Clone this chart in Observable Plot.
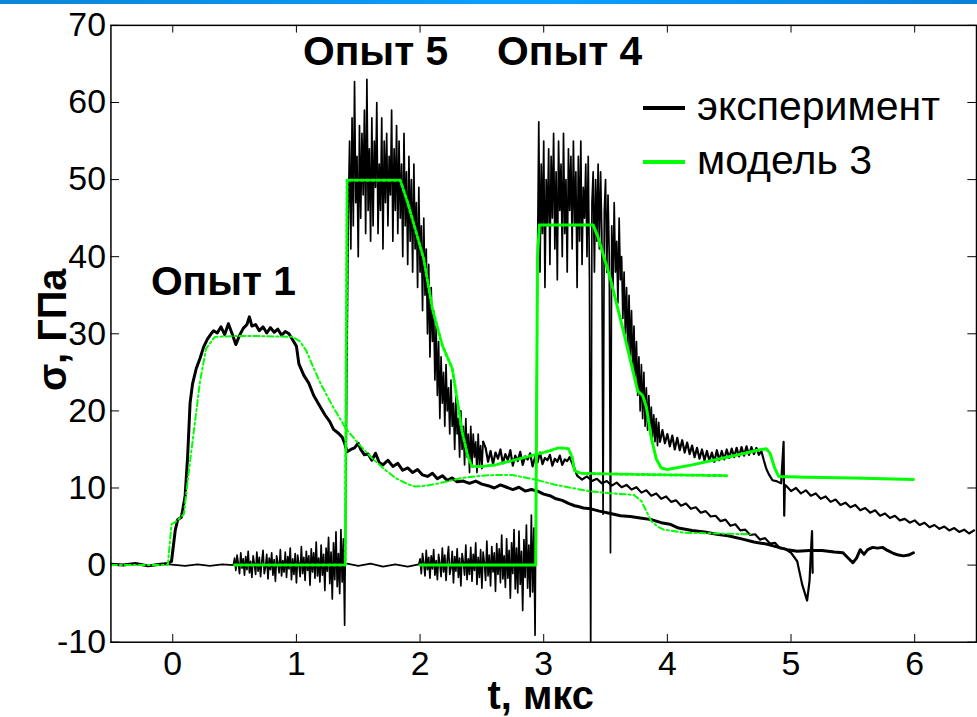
<!DOCTYPE html>
<html><head><meta charset="utf-8">
<script src="https://cdn.jsdelivr.net/npm/d3@7"></script>
<script src="https://cdn.jsdelivr.net/npm/@observablehq/plot@0.6"></script>
<style>
html,body{margin:0;padding:0;background:#fff;overflow:hidden;}
#wrap{position:relative;width:977px;height:717px;overflow:hidden;}
#bar{position:absolute;left:0;top:0;width:977px;height:4px;background:linear-gradient(90deg,#0b86d8,#0aa0ff 55%,#0a7fd8);z-index:2;}
.leg{position:absolute;font-family:"Liberation Sans",Arial,sans-serif;font-size:41px;line-height:41px;color:#000;white-space:nowrap;z-index:2;}
.legline{position:absolute;height:4px;width:42px;z-index:2;}
</style></head><body><div id="wrap"><div id="bar"></div></div>
<script>
// ---------- axes ----------
const xTicks = [0, 1, 2, 3, 4, 5, 6];
const yTicks = [-10, 0, 10, 20, 30, 40, 50, 60, 70];
const xTitle = ["t, мкс"];
const yTitle = ["σ, ГПа"];
const annotations = [
  {t: 0.41, s: 36.7, label: "Опыт 1"},
  {t: 1.64, s: 66.5, label: "Опыт 5"},
  {t: 3.21, s: 66.5, label: "Опыт 4"}
];
const legendLabels = ["эксперимент", "модель 3"];
const legendColors = ["#000000", "#00ff00"];

// ---------- Опыт 1, experiment (thick black) ----------
const exp1 = [[-0.5,0.1],[-0.4,0],[-0.3,0.2],[-0.2,-0.1],[-0.1,0.1],[-0.04,0.2],[-0.01,0.5],[0.02,4.5],[0.04,5.9],[0.07,6.2],[0.1,9],[0.12,14],[0.14,21],[0.16,23.5],[0.19,25.5],[0.22,26.8],[0.25,28.3],[0.28,29.3],[0.31,30.0],[0.33,30.4],[0.36,30.1],[0.39,30.9],[0.42,29.9],[0.45,31.3],[0.48,30.0],[0.51,28.6],[0.54,29.8],[0.57,30.7],[0.6,31.2],[0.62,32.2],[0.64,31.0],[0.67,31.2],[0.70,30.4],[0.73,30.9],[0.76,30.1],[0.79,30.8],[0.82,30.2],[0.85,30.6],[0.88,29.8],[0.91,30.3],[0.94,30.0],[0.97,29.2],[1.0,28.4],[1.02,26.1],[1.06,24.6],[1.10,23.6],[1.14,22.0],[1.19,20.6],[1.23,19.5],[1.27,18.6],[1.30,17.6],[1.34,17.1],[1.37,16.6],[1.39,15.8],[1.41,14.7],[1.44,15.0],[1.47,15.2],[1.50,15.8],[1.52,15.0],[1.55,14.3],[1.58,14.4],[1.61,13.6],[1.64,14.5],[1.67,13.3],[1.70,13.0],[1.74,13.6],[1.78,12.8],[1.82,13.2],[1.86,12.3],[1.9,12.6],[1.94,12.0],[1.98,12.4],[2.02,11.7],[2.06,11.5],[2.10,11.9],[2.14,11.2],[2.18,11.6],[2.22,11.0],[2.26,11.3],[2.30,10.8],[2.35,10.9],[2.40,10.6],[2.45,10.9],[2.50,10.5],[2.55,10.3],[2.60,10.0],[2.65,10.4],[2.70,10.1],[2.75,9.8],[2.80,10.1],[2.85,9.6],[2.90,9.8],[2.95,9.6],[3.0,9.2],[3.05,9.0],[3.10,8.6],[3.15,8.4],[3.20,8.0],[3.25,7.7],[3.28,7.6],[3.32,7.4],[3.38,7.3],[3.45,7.0],[3.54,6.7],[3.62,6.4],[3.70,6.3],[3.78,6.1],[3.87,5.9],[3.95,5.5],[4.02,5.3],[4.09,4.8],[4.2,4.5],[4.3,4.3],[4.4,4.0],[4.49,3.8],[4.6,3.4],[4.7,3.0],[4.81,2.7],[4.9,2.3],[4.97,2.0],[5.05,1.8],[5.15,1.9],[5.25,1.9],[5.35,1.7],[5.42,1.6],[5.47,0.8],[5.5,0.3],[5.53,0.9],[5.56,2.0],[5.59,1.4],[5.62,2.0],[5.66,2.3],[5.70,2.2],[5.74,2.3],[5.78,1.9],[5.83,1.5],[5.87,1.3],[5.91,1.2],[5.95,1.3],[5.99,1.6]];

// ---------- Опыт 5, experiment (noisy thin black) ----------
const exp5Quiet = [[-0.03,0.1],[0.1,-0.1],[0.2,0.1],[0.3,-0.1],[0.4,0.1],[0.49,0]];
const exp5PreStart = 0.5, exp5PreStep = 0.01;
const exp5Pre = [0.9,-0.7,1.3,0.2,-1.1,1.6,-0.4,0.8,-1.3,1.1,
 -0.6,1.8,-1.0,0.5,-1.6,1.2,0.1,-1.2,1.7,-0.8,
 1.0,-1.5,0.4,1.9,-1.1,-0.3,1.4,-1.8,0.9,-0.6,
 1.6,-1.3,0.7,-2.1,1.2,0.3,-1.0,2.0,-1.4,0.6,
 -0.9,1.7,-1.6,1.1,-0.5,2.2,-1.9,0.8,-1.2,1.5,
 -2.3,1.3,0.2,-1.5,2.4,-1.1,1.0,-2.0,1.8,-0.7,
 1.2,-2.6,2.1,-0.9,1.6,-1.7,3.0,-1.4,0.9,-2.2,
 2.6,-1.3,1.4,-3.3,2.2,-0.8,3.6,-2.4,1.7,-4.4,
 2.9,-1.9,4.3,-2.8,1.5,-3.7,4.6,-2.2,3.4,-7.8];
const exp5PeakStart = 1.42, exp5PeakStep = 0.01;
const exp5Peak = [46,55,41,58,44,62.7,47,53,40,57,
 45,56,48,59,43,63,46,54,42,58,
 44,55,49,60,43,52,46,58,41,55,
 47,56,44,53,48,59,42,54,46,57,
 43,55,45,52,40,56,44,51,39,53,
 42,50,38,52,41,47,36,49,38,44,
 33,45,35,41,30,39,27,36,29,33,
 24,31,22,29,19,27,21,25,18,26,
 20,23,17,24,18,21,15,22,17,19,
 14,20,15,18,13,19,14,17,12,18,
 13,17,14,16,12,17,13,15.5,12.5,16];
const exp5MidStart = 2.53, exp5MidStep = 0.02;
const exp5Mid = [15.2,13.4,14.8,13.1,14.6,13.8,15.0,13.2,14.4,13.6,
 14.9,12.9,14.2,13.5,14.7,13.0,14.1,13.7,14.5,12.8,
 14.0,13.3,14.6,13.1,13.9,13.6,14.3,12.9,13.8,13.4,
 14.2,13.0,13.7,13.5,14.0,13.2,12.5];
const exp5TailStart = 3.27, exp5TailStep = 0.04;
const exp5Tail = [11.6,11.1,11.5,10.9,11.2,10.6,10.9,10.3,10.7,10.1,
 10.4,9.8,10.1,9.4,9.7,9.0,9.3,8.6,8.9,8.2,
 8.4,7.7,8.0,7.3,7.5,6.8,7.0,6.3,6.4,5.7,
 5.9,5.1,5.3,4.5,4.6,3.9,4.0,3.3,3.5,2.8,
 2.9,2.2,2.1];
const exp5End = [[5.00,1.6],[5.05,0.5],[5.09,-2.5],[5.13,-4.6],[5.15,-2.0],[5.16,1.5],[5.17,4.4],[5.175,-1.0]];

// ---------- Опыт 4, experiment (noisy thin black) ----------
const exp4Quiet = [[1.41,0.2],[1.5,-0.1],[1.6,0.2],[1.7,-0.2],[1.8,0.1],[1.9,-0.2],[1.99,0.1]];
const exp4PreStart = 2.0, exp4PreStep = 0.01;
const exp4Pre = [0.8,-1.1,1.5,0.3,-1.4,1.9,-0.6,1.0,-1.7,1.2,
 -0.5,2.0,-1.3,0.6,-1.9,1.4,0.2,-1.5,2.2,-0.9,
 1.3,-2.0,0.7,2.4,-1.2,-0.4,1.8,-2.3,1.1,-0.8,
 2.1,-1.6,0.9,-2.7,1.5,0.4,-1.3,2.6,-1.9,0.8,
 -1.2,2.3,-2.1,1.4,-0.7,2.9,-2.5,1.0,-1.6,2.0,
 -3.0,1.7,0.3,-2.0,3.1,-1.4,1.3,-2.7,2.4,-0.9,
 1.6,-3.4,2.8,-1.2,2.1,-2.3,3.9,-1.8,1.2,-2.9,
 3.4,-1.7,1.9,-4.3,2.9,-1.1,4.6,-3.1,2.2,-3.6,
 4.4,-2.5,1.8,-5.9,3.3,-1.6,5.2,-3.0,2.6,-4.1,
 6.5,-3.5,4.8,-9.1];
const exp4PeakStart = 2.95, exp4PeakStep = 0.01;
const exp4Peak = [40,57.5,38,52,43,55,36,50,44,54,
 39,53,45,56,41,51,37,55,46,52,
 40,56,43,50,38,54,46,53,41,55,
 44,51,36,53,42,55,39,49,45,52,
 40,53,37,-12,47,51,38,50,42,52,
 41,51,43,6.6,46,50,38,48,40,1.6,
 44,36,47,38,42,34,45,37,40,32,
 38,30,36,28,35,27,33,25,31,24,
 29,22,27,20,26,19,25,18,23,17.5,
 22,17,20.5,16.5,19.5,16,19,15.5,18.5,16];
const exp4MidStart = 3.96, exp4MidStep = 0.02;
const exp4Mid = [17.5,15.8,17.0,15.4,16.8,15.0,16.5,14.9,16.2,14.6,
 15.9,14.4,15.5,14.0,15.2,13.8,15.0,13.6,14.8,13.5,
 14.6,13.4,14.9,13.6,14.8,13.7,15.0,13.9,15.1,14.0,
 15.2,14.1,15.3,14.2,15.4,14.3,15.3,14.4,15.2,14.3,
 14.8,13.6,12.5];
const exp4Drop = [[4.82,11.8],[4.85,11.0],[4.88,10.9],[4.92,10.6],[4.94,16.0],[4.945,6.4],[4.95,10.4]];
const exp4TailStart = 4.96, exp4TailStep = 0.04;
const exp4Tail = [10.3,9.6,10.0,9.3,9.7,9.0,9.3,8.6,8.9,8.2,
 8.5,7.8,8.1,7.5,7.8,7.1,7.4,6.8,7.1,6.4,
 6.7,6.1,6.4,5.8,6.0,5.5,5.8,5.2,5.5,4.9,
 5.2,4.7,5.0,4.5,4.8,4.3,4.6,4.1,4.5];

// ---------- models (green) ----------
const model1 = [[-0.5,0],[-0.04,0],[-0.01,5.3],[0.03,5.7],[0.09,6.6],[0.13,12.2],[0.17,17.3],[0.22,23.8],[0.27,28.1],[0.34,29.6],[0.5,29.7],[0.7,29.7],[0.97,29.6],[1.03,29.0],[1.08,27.8],[1.13,25.9],[1.2,23.4],[1.29,20.7],[1.4,17.7],[1.51,15.6],[1.61,13.9],[1.70,12.6],[1.8,11.3],[1.9,10.5],[1.96,10.2],[2.05,10.3],[2.15,10.6],[2.34,11.3],[2.5,11.6],[2.63,11.7],[2.74,11.7],[2.93,11.1],[3.1,10.4],[3.36,9.6],[3.55,9.3],[3.73,9.1],[3.79,8.3],[3.83,7.0],[3.87,5.7],[3.92,5.0],[3.97,4.6],[4.14,4.2],[4.4,4.1],[4.67,4.0]];
const model5 = [[0.5,0],[1.395,0],[1.41,49.9],[1.84,49.9],[1.9,47],[2.03,39.7],[2.1,33.2],[2.18,28.5],[2.26,25.5],[2.30,21.5],[2.34,17.3],[2.39,13.9],[2.42,12.8],[2.5,12.8],[2.61,13.0],[2.88,14.1],[3.0,14.6],[3.12,15.2],[3.2,15.1],[3.23,14.0],[3.25,12.2],[3.3,11.9],[3.6,11.8],[4.0,11.7],[4.48,11.6]];
const model4 = [[2.0,0],[2.935,0],[2.95,40],[2.965,44.1],[3.40,44.1],[3.44,42.5],[3.54,37.1],[3.65,30],[3.76,22.6],[3.80,22.0],[3.83,20.5],[3.87,16.5],[3.91,13.8],[3.95,12.6],[4.0,12.4],[4.2,13.0],[4.4,13.7],[4.6,14.4],[4.73,14.9],[4.8,15.1],[4.83,14.5],[4.87,12.5],[4.9,11.5],[5.13,11.4],[5.5,11.3],[5.99,11.1]];

// ---------- assemble ----------
const steps = (t0, dt, vals) => vals.map((v, i) => [t0 + i * dt, v]);
const exp5Fast = [].concat(exp5Quiet, steps(exp5PreStart, exp5PreStep, exp5Pre), steps(exp5PeakStart, exp5PeakStep, exp5Peak));
const exp5Slow = [].concat([exp5Fast[exp5Fast.length - 1]], steps(exp5MidStart, exp5MidStep, exp5Mid),
  steps(exp5TailStart, exp5TailStep, exp5Tail), exp5End);
const exp4Fast = [].concat(exp4Quiet, steps(exp4PreStart, exp4PreStep, exp4Pre), steps(exp4PeakStart, exp4PeakStep, exp4Peak));
const exp4Slow = [].concat([exp4Fast[exp4Fast.length - 1]], steps(exp4MidStart, exp4MidStep, exp4Mid), exp4Drop,
  steps(exp4TailStart, exp4TailStep, exp4Tail));

const X = d => d[0], Y = d => d[1];
const font = "'Liberation Sans', Arial, Helvetica, sans-serif";

const chart = Plot.plot({
  width: 982, height: 717,
  marginLeft: 111, marginRight: 1, marginTop: 25, marginBottom: 72,
  x: {domain: [-0.5, 6.5]},
  y: {domain: [-10, 70]},
  style: {fontFamily: font, background: "transparent", color: "#000", overflow: "visible"},
  marks: [
    Plot.axisX(xTicks, {anchor: "bottom", tickSize: 0, tickPadding: 9, fontSize: 34, label: null, tickFormat: d => String(d)}),
    Plot.axisY(yTicks, {anchor: "left", tickSize: 0, tickPadding: 5, fontSize: 34, label: null, tickFormat: d => String(d)}),
    Plot.ruleX(xTicks, {x: d => d, y1: -10, y2: -9, stroke: "#000", strokeWidth: 1}),
    Plot.ruleX(xTicks, {x: d => d, y1: 70, y2: 69, stroke: "#000", strokeWidth: 1}),
    Plot.ruleY(yTicks, {y: d => d, x1: -0.5, x2: -0.43, stroke: "#000", strokeWidth: 1}),
    Plot.ruleY(yTicks, {y: d => d, x1: 6.5, x2: 6.43, stroke: "#000", strokeWidth: 1}),
    Plot.line(exp5Fast, {x: X, y: Y, stroke: "#000", strokeWidth: 1.7, clip: true}),
    Plot.line(exp5Slow, {x: X, y: Y, stroke: "#000", strokeWidth: 2.2, clip: true}),
    Plot.line(exp4Fast, {x: X, y: Y, stroke: "#000", strokeWidth: 1.7, clip: true}),
    Plot.line(exp4Slow, {x: X, y: Y, stroke: "#000", strokeWidth: 2.2, clip: true}),
    Plot.line(exp1, {x: X, y: Y, stroke: "#000", strokeWidth: 3, clip: true}),
    Plot.line(model1, {x: X, y: Y, stroke: "#00ff00", strokeWidth: 2, strokeDasharray: "6,3,2,3", clip: true}),
    Plot.line(model5, {x: X, y: Y, stroke: "#00ff00", strokeWidth: 3, strokeDasharray: "3,2.5", clip: true}),
    Plot.line(model4, {x: X, y: Y, stroke: "#00ff00", strokeWidth: 3, clip: true}),
    Plot.text(annotations, {x: "t", y: "s", text: "label", fontSize: 41, fontWeight: "bold", fill: "#000"}),
    Plot.text(xTitle, {text: d => d, frameAnchor: "bottom", dx: -3, dy: 67, fontSize: 40, fontWeight: "bold", fill: "#000"}),
    Plot.text(yTitle, {text: d => d, frameAnchor: "left", textAnchor: "middle", rotate: -90, dx: -58, dy: -4, fontSize: 40, fontWeight: "bold", fill: "#000"}),
    Plot.frame({stroke: "#000", strokeWidth: 1.5})
  ]
});
const wrap = document.getElementById("wrap");
wrap.appendChild(chart);

// legend (HTML, above the svg)
const legTops = [86, 140];
legendLabels.forEach((lab, i) => {
  const ln = document.createElement("div");
  ln.className = "legline";
  ln.style.left = "643px";
  ln.style.top = (legTops[i] + 20) + "px";
  ln.style.background = legendColors[i];
  wrap.appendChild(ln);
  const tx = document.createElement("div");
  tx.className = "leg";
  tx.style.left = "697px";
  tx.style.top = legTops[i] + "px";
  tx.textContent = lab;
  wrap.appendChild(tx);
});
</script></body></html>
